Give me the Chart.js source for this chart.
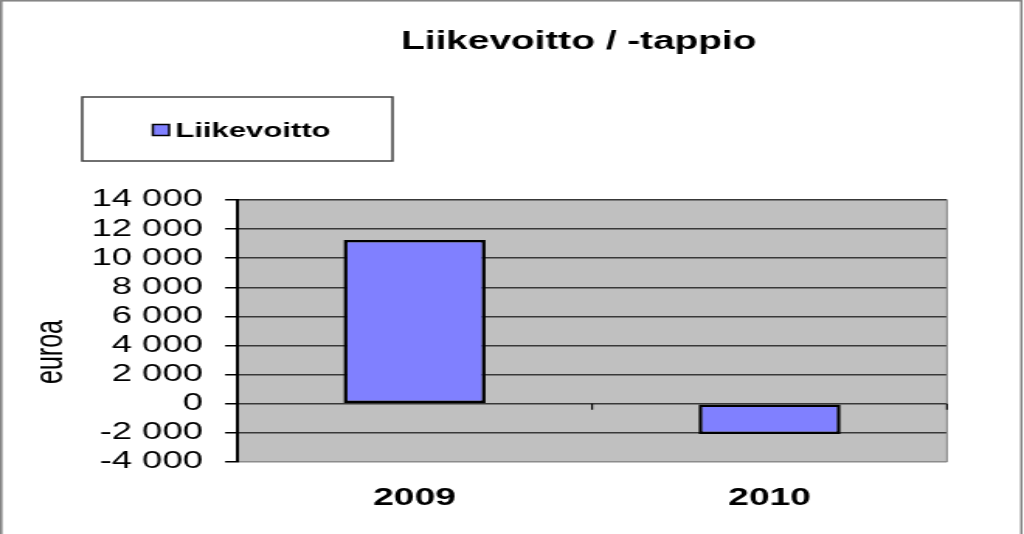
<!DOCTYPE html>
<html lang="fi">
<head>
    <meta charset="UTF-8">
    <title>Liikevoitto / -tappio</title>
    <script src="https://cdn.jsdelivr.net/npm/chart.js"></script>
    <style>
        html, body { margin: 0; padding: 0; background: #fff; overflow: hidden; }
    </style>
</head>
<body>
    <!-- piirretään kapeammalle kankaalle ja venytetään leveyssuunnassa kuten alkuperäinen kuva -->
    <canvas id="kaavio" width="660" height="534" style="width:1024px;height:534px;"></canvas>

    <script>
        const vuodet = ['2009', '2010'];
        const liikevoitto = [11250, -2080];
        const yMin = -4000;
        const yMax = 14000;
        const yAskel = 2000;

        const otsikko = 'Liikevoitto / -tappio';
        const sarjanNimi = 'Liikevoitto';
        const akselinNimi = 'euroa';

        function muotoile(arvo) {
            let s = String(Math.abs(arvo)).replace(/\B(?=(\d{3})+(?!\d))/g, ' ');
            return (arvo < 0 ? '-' : '') + s;
        }

        const kehys = {
            id: 'kehys',
            beforeDraw(chart) {
                const ctx = chart.ctx;
                const a = chart.chartArea;
                ctx.save();
                ctx.fillStyle = '#fff';
                ctx.fillRect(0, 0, chart.width, chart.height);
                ctx.strokeStyle = '#808080';
                ctx.lineWidth = 1.5;
                ctx.strokeRect(0.8, 0.8, 657.5, 560);
                ctx.fillStyle = '#c0c0c0';
                ctx.fillRect(a.left, a.top, a.right - a.left, a.bottom - a.top);
                ctx.restore();
            },
            beforeDatasetsDraw(chart) {
                const ctx = chart.ctx;
                const a = chart.chartArea;
                ctx.save();
                ctx.strokeStyle = '#8c8c8c';
                ctx.lineWidth = 1.2;
                ctx.beginPath();
                ctx.moveTo(a.right, a.top);
                ctx.lineTo(a.right, a.bottom);
                ctx.stroke();
                // luokka-akselin jakoviivat nollatasolla
                const x = chart.scales.x;
                const y0 = chart.scales.y.getPixelForValue(0);
                const n = vuodet.length;
                ctx.strokeStyle = '#000';
                ctx.lineWidth = 1.2;
                for (let i = 1; i <= n; i++) {
                    const px = x.left + i * (x.width / n);
                    ctx.beginPath();
                    ctx.moveTo(px, y0);
                    ctx.lineTo(px, y0 + 6);
                    ctx.stroke();
                }
                ctx.restore();
            },
            afterDraw(chart) {
                const ctx = chart.ctx;
                const ds = chart.data.datasets[0];
                ctx.save();
                // otsikko
                ctx.fillStyle = '#000';
                ctx.font = 'bold 25px "Liberation Sans", Arial, sans-serif';
                ctx.textAlign = 'center';
                ctx.textBaseline = 'middle';
                ctx.fillText(otsikko, 373, 42);

                // selite
                ctx.fillStyle = '#fff';
                ctx.fillRect(53, 97, 200, 64);
                ctx.strokeStyle = '#404040';
                ctx.lineWidth = 1.5;
                ctx.strokeRect(53, 97, 200, 64);
                ctx.fillStyle = ds.backgroundColor;
                ctx.fillRect(98.5, 124.5, 10.5, 11);
                ctx.strokeStyle = '#000';
                ctx.lineWidth = 1.5;
                ctx.strokeRect(98.5, 124.5, 10.5, 11);
                ctx.fillStyle = '#000';
                ctx.font = 'bold 20px "Liberation Sans", Arial, sans-serif';
                ctx.textAlign = 'left';
                ctx.fillText(ds.label, 113, 131);

                // y-akselin nimi
                ctx.translate(33.5, 352);
                ctx.rotate(-Math.PI / 2);
                ctx.textAlign = 'center';
                ctx.font = '25px "Liberation Sans", Arial, sans-serif';
                ctx.fillText(akselinNimi, 0, 0);
                ctx.restore();
            }
        };

        new Chart(document.getElementById('kaavio'), {
            type: 'bar',
            data: {
                labels: vuodet,
                datasets: [{
                    label: sarjanNimi,
                    data: liikevoitto,
                    backgroundColor: '#8080ff',
                    borderColor: '#000',
                    borderWidth: 2.5,
                    borderSkipped: false,
                    barPercentage: 0.4,
                    categoryPercentage: 1
                }]
            },
            options: {
                responsive: false,
                animation: false,
                devicePixelRatio: 1,
                layout: { padding: { top: 200, right: 49.6, bottom: 0, left: 0 } },
                plugins: {
                    legend: { display: false },
                    title: { display: false },
                    tooltip: { enabled: false }
                },
                scales: {
                    x: {
                        grid: { display: false, drawTicks: false },
                        border: { display: false },
                        ticks: {
                            color: '#000',
                            padding: 22,
                            font: { family: '"Liberation Sans", Arial, sans-serif', size: 24, weight: 'bold' }
                        },
                        afterFit(scale) { scale.height = 72; }
                    },
                    y: {
                        min: yMin,
                        max: yMax,
                        grid: {
                            color: (c) => c.tick && c.tick.value === yMin ? '#8c8c8c' : '#383838',
                            tickColor: '#000',
                            lineWidth: 1.5,
                            tickLength: 7.7
                        },
                        border: { display: true, color: '#000', width: 2 },
                        ticks: {
                            stepSize: yAskel,
                            autoSkip: false,
                            color: '#000',
                            padding: 14.3,
                            font: { family: '"Liberation Sans", Arial, sans-serif', size: 23.5 },
                            callback: (v) => muotoile(v)
                        },
                        afterFit(scale) { scale.width = 152.8; }
                    }
                }
            },
            plugins: [kehys]
        });
    </script>
</body>
</html>
